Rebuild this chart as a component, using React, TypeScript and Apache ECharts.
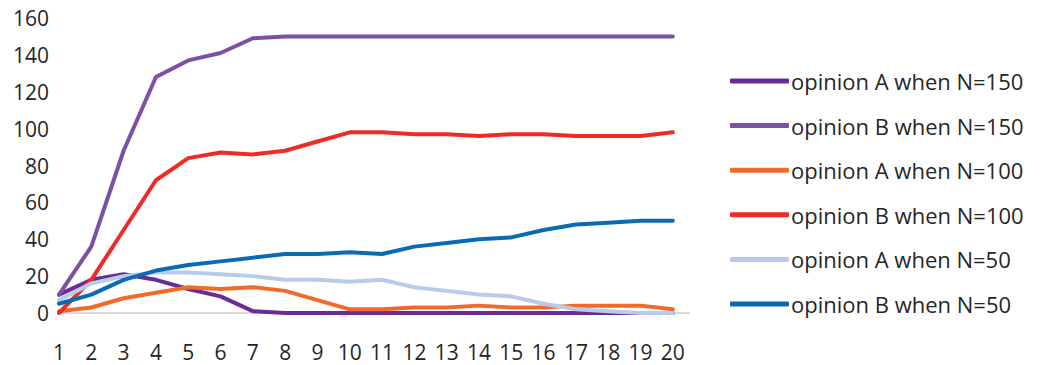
import React, { useEffect, useRef } from "react";
import * as echarts from "echarts";

const steps = [1, 2, 3, 4, 5, 6, 7, 8, 9, 10, 11, 12, 13, 14, 15, 16, 17, 18, 19, 20];
const seriesNames = [
  "opinion A when N=150",
  "opinion B when N=150",
  "opinion A when N=100",
  "opinion B when N=100",
  "opinion A when N=50",
  "opinion B when N=50",
];
const aN150 = [10, 18, 21, 18, 13, 9, 1, 0, 0, 0, 0, 0, 0, 0, 0, 0, 0, 0, 0, 0];
const bN150 = [10, 36, 88, 128, 137, 141, 149, 150, 150, 150, 150, 150, 150, 150, 150, 150, 150, 150, 150, 150];
const aN100 = [1, 3, 8, 11, 14, 13, 14, 12, 7, 2, 2, 3, 3, 4, 3, 3, 4, 4, 4, 2];
const bN100 = [0, 18, 45, 72, 84, 87, 86, 88, 93, 98, 98, 97, 97, 96, 97, 97, 96, 96, 96, 98];
const aN50 = [7, 16, 20, 22, 22, 21, 20, 18, 18, 17, 18, 14, 12, 10, 9, 5, 2, 1, 0, 0];
const bN50 = [5, 10, 18, 23, 26, 28, 30, 32, 32, 33, 32, 36, 38, 40, 41, 45, 48, 49, 50, 50];
const allValues = [aN150, bN150, aN100, bN100, aN50, bN50];
const colors = ["#6A2C94", "#7A51A5", "#F26A2B", "#EE2B27", "#B7CCE8", "#0A6BB5"];

export default function App() {
  const ref = useRef<HTMLDivElement>(null);
  useEffect(() => {
    if (!ref.current) return;
    const chart = echarts.init(ref.current, null, { renderer: "svg" });
    const font = "Open Sans";
    chart.setOption({
      animation: false,
      color: colors,
      grid: { left: 59, top: 18, width: 630, height: 295 },
      legend: {
        orient: "vertical",
        left: 725,
        top: 64,
        icon: "roundRect",
        itemWidth: 59,
        itemHeight: 5,
        itemGap: 20.6,
        data: seriesNames,
        textStyle: { fontFamily: font, fontSize: 22, color: "#262626", lineHeight: 24, padding: [0, 0, 0, -3] },
      },
      xAxis: {
        type: "value",
        min: 1,
        max: 20.5,
        interval: 1,
        splitLine: { show: false },
        axisTick: { show: false },
        axisLine: { show: true, lineStyle: { color: "#D9D9D9", width: 2 } },
        axisLabel: {
          margin: 28,
          fontFamily: font,
          fontSize: 21,
          color: "#262626",
          formatter: (v: number) => (Number.isInteger(v) ? String(v) : ""),
        },
      },
      yAxis: {
        type: "value",
        min: 0,
        max: 160,
        interval: 20,
        splitLine: { show: false },
        axisLine: { show: false },
        axisTick: { show: false },
        axisLabel: { margin: 10, fontFamily: font, fontSize: 21, color: "#262626" },
      },
      series: seriesNames.map((name, i) => ({
        name,
        type: "line",
        symbol: "none",
        data: steps.map((s, j) => [s, allValues[i][j]]),
        lineStyle: { width: 4, color: colors[i], cap: "round", join: "round" },
        itemStyle: { color: colors[i] },
        z: i,
      })),
    });
    return () => chart.dispose();
  }, []);
  return (
    <div
      ref={ref}
      style={{ position: "fixed", left: 0, top: 0, width: 1045, height: 365, background: "#fff" }}
    />
  );
}
